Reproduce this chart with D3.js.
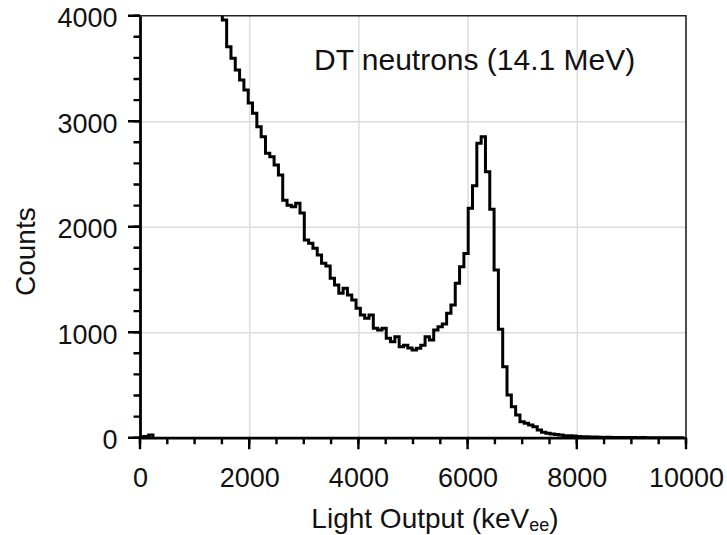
<!DOCTYPE html>
<html>
<head>
<meta charset="utf-8">
<script src="https://cdn.jsdelivr.net/npm/d3@7"></script>
<style>
  body { margin: 0; background: #fff; }
  svg text { font-family: "Liberation Sans", Arial, sans-serif; fill: #111; }
</style>
</head>
<body>
<div id="chart"></div>
<script>
// light output spectrum, bins of 79 keVee
const binWidth = 79;

// small blip right at the start of the axis
const lowStart = 0;
const lowCounts = [8, 12, 25];

// main spectrum, first bin is off-scale (above 4000)
const mainStart = 1429;
const mainCounts = [4400,
    3959, 3706, 3596, 3485, 3390, 3296, 3172, 3075, 2948, 2853,
    2696, 2663, 2585, 2490, 2250, 2204, 2190, 2222, 2130, 1874,
    1842, 1795, 1731, 1653, 1627, 1511, 1447, 1369, 1416, 1353,
    1305, 1226, 1163, 1132, 1163, 1037, 1021, 1037, 942, 910,
    957, 862, 877, 850, 832, 848, 877, 957, 926, 1020,
    1052, 1078, 1180, 1257, 1463, 1621, 1747, 2174, 2389, 2790,
    2853, 2521, 2165, 1590, 1027, 673, 405, 294, 215, 152,
    136, 120, 104, 73, 51, 42, 35, 30, 25, 19,
    18, 16, 12, 10, 8, 6, 7, 4, 3, 5,
    2, 2, 3, 1, 2, 1, 0, 1, 0, 0,
    0, 0, 0, 0, 0, 0, 0];

const xTicks = [0, 2000, 4000, 6000, 8000, 10000];
const xMinorTicks = d3.range(0, 10001, 500);
const yTicks = [0, 1000, 2000, 3000, 4000];
const yMinorTicks = d3.range(0, 4001, 200);

const title = "DT neutrons (14.1 MeV)";

const margin = {top: 15.7, right: 41, bottom: 97.3, left: 140};
const width = 727 - margin.left - margin.right;
const height = 535 - margin.top - margin.bottom;

const svg = d3.select("#chart").append("svg")
    .attr("width", 727)
    .attr("height", 535);

const g = svg.append("g")
    .attr("transform", `translate(${margin.left}, ${margin.top})`);

const x = d3.scaleLinear().domain([0, 10000]).range([0, width]);
const y = d3.scaleLinear().domain([0, 4000]).range([height, 0]);

// grid
g.append("g")
    .attr("class", "grid")
    .attr("transform", `translate(0, ${height})`)
    .call(d3.axisBottom(x).tickValues(xTicks.slice(1, -1)).tickSize(-height).tickFormat(""))
    .call(s => s.select(".domain").remove());
g.append("g")
    .attr("class", "grid")
    .call(d3.axisLeft(y).tickValues(yTicks.slice(1, -1)).tickSize(-width).tickFormat(""))
    .call(s => s.select(".domain").remove());
g.selectAll(".grid line").attr("stroke", "#dcdcdc").attr("stroke-width", 1.5);

// frame top / right
g.append("path")
    .attr("d", `M0,0H${width}V${height}`)
    .attr("fill", "none")
    .attr("stroke", "#222")
    .attr("stroke-width", 1.6);

// histogram
g.append("clipPath").attr("id", "plot-clip")
    .append("rect").attr("width", width).attr("height", height);

function stepPoints(start, counts) {
    let pts = counts.map((c, i) => [start + i * binWidth, c]);
    pts.push([start + counts.length * binWidth, counts[counts.length - 1]]);
    return pts;
}

const line = d3.line()
    .x(d => x(d[0]))
    .y(d => y(d[1]))
    .curve(d3.curveStepAfter);

const lowPts = stepPoints(lowStart, lowCounts);
lowPts.push([lowStart + lowCounts.length * binWidth, 0]);

g.append("g").attr("clip-path", "url(#plot-clip)")
    .selectAll("path")
    .data([lowPts, stepPoints(mainStart, mainCounts)])
    .join("path")
    .attr("d", line)
    .attr("fill", "none")
    .attr("stroke", "#000")
    .attr("stroke-width", 3)
    .attr("stroke-linejoin", "miter");

// tick marks (outside), one path each, built from the scales
const xMinorPath = xMinorTicks.map(d => `M${x(d)},${height}v6.5`).join("");
const xMajorPath = xTicks.map(d => `M${x(d)},${height}v11.5`).join("");
const yMinorPath = yMinorTicks.map(d => `M0,${y(d)}h-6.5`).join("");
const yMajorPath = yTicks.map(d => `M0,${y(d)}h-12`).join("");
g.selectAll(".tickmark")
    .data([xMinorPath, xMajorPath, yMinorPath, yMajorPath])
    .join("path")
    .attr("class", "tickmark")
    .attr("d", d => d)
    .attr("fill", "none")
    .attr("stroke", "#000")
    .attr("stroke-width", 2.4);

// axes (domain + labels)
function styleAxis(sel) {
    sel.attr("font-family", null).attr("font-size", null);
    sel.selectAll(".domain").attr("stroke", "#000").attr("stroke-width", 2.8);
    sel.selectAll(".tick line").remove();
    sel.selectAll(".tick text").attr("font-size", 27).attr("fill", "#111");
}

g.append("g")
    .attr("transform", `translate(0, ${height})`)
    .call(d3.axisBottom(x).tickValues(xTicks).tickSize(11).tickSizeOuter(0).tickPadding(19).tickFormat(d3.format("d")))
    .call(styleAxis);

g.append("g")
    .call(d3.axisLeft(y).tickValues(yTicks).tickSize(11.5).tickSizeOuter(0).tickPadding(11).tickFormat(d3.format("d")))
    .call(styleAxis)
    .selectAll(".tick text").attr("dy", "0.4em");

// title inside the plot
svg.append("text")
    .attr("x", 314)
    .attr("y", 70)
    .attr("font-size", 30)
    .text(title);

// axis titles
const xLabel = svg.append("text")
    .attr("x", margin.left + width / 2 + 22)
    .attr("y", 527.5)
    .attr("text-anchor", "middle")
    .attr("font-size", 28);
xLabel.append("tspan").text("Light Output (keV");
xLabel.append("tspan").attr("font-size", 18).attr("dy", 3).text("ee");
xLabel.append("tspan").attr("dy", -3).text(")");

svg.append("text")
    .attr("transform", `translate(35, ${margin.top + height / 2 + 25}) rotate(-90)`)
    .attr("text-anchor", "middle")
    .attr("font-size", 28)
    .text("Counts");
</script>
</body>
</html>
